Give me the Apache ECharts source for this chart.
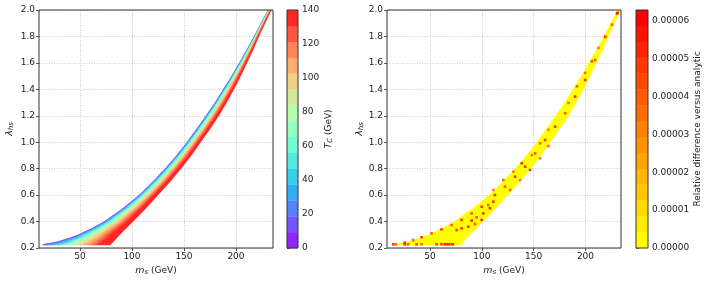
<!DOCTYPE html>
<html><head><meta charset="utf-8">
<script src="https://cdn.jsdelivr.net/npm/echarts@6/dist/echarts.min.js"></script>
<style>html,body{margin:0;padding:0;background:#fff}#c{width:710px;height:283px}</style>
</head><body><div id="c"></div>
<script>
// ---------------- data ----------------
// Band of points in (m_s, lambda_hs): for each lambda row, the m_s of the low-T edge and of the high-T edge
const lambdaRows   = [0.222, 0.23, 0.24, 0.25, 0.275, 0.3, 0.35, 0.4, 0.5, 0.6, 0.7, 0.8, 0.9, 1.0, 1.1, 1.2, 1.3, 1.4, 1.5, 1.6, 1.7, 1.8, 1.9, 2.0];
const upperEdgeMs  = [14, 16, 24, 29.5, 40, 48.5, 62, 73.5, 91.5, 107, 120, 132, 143, 153, 162.3, 171.3, 180, 188, 196, 203.4, 210.6, 217.6, 224.4, 231];
const lowerEdgeMs  = [79, 80, 81.2, 82.4, 85.3, 88.2, 94.5, 101, 113.5, 125, 136.5, 147, 157, 166, 175, 183.5, 191, 198, 204.5, 210.5, 216.5, 222, 228, 234];
// position of each T_C colour-level boundary across the band (0 = low-T edge, 1 = high-T edge), read on three kinds of rows
const tcFracBottom = [0, 0.03, 0.07, 0.12, 0.18, 0.24, 0.29, 0.335, 0.38, 0.45, 0.53, 0.60, 0.67, 0.74, 0.80, 1];
const tcFracLow    = [0, 0.022, 0.055, 0.095, 0.145, 0.195, 0.245, 0.29, 0.345, 0.41, 0.485, 0.555, 0.625, 0.70, 0.775, 1];
const tcFracMain   = [0, 0.015, 0.04, 0.07, 0.11, 0.15, 0.2, 0.25, 0.31, 0.37, 0.44, 0.51, 0.58, 0.66, 0.75, 1];
const rowFracKind  = [0, 0, 0, 1, 1, 2, 2, 2, 2, 2, 2, 2, 2, 2, 2, 2, 2, 2, 2, 2, 2, 2, 2, 2];
// colour bar levels
const tcBandEdges  = [0, 9.33, 18.67, 28, 37.33, 46.67, 56, 65.33, 74.67, 84, 93.33, 102.67, 112, 121.33, 130.67, 140];
const tcTicks      = [0, 20, 40, 60, 80, 100, 120, 140];
const relBandEdges = [0, 0.00000419, 0.00000837, 0.00001256, 0.00001675, 0.00002093, 0.00002512, 0.00002931, 0.00003349, 0.00003768, 0.00004187, 0.00004605, 0.00005024, 0.00005443, 0.00005861, 0.0000628];
const relTicks     = [0, 0.00001, 0.00002, 0.00003, 0.00004, 0.00005, 0.00006];
const xTicks       = [50, 100, 150, 200];
// points with a large relative difference (right panel)
const dotMs      = [14.4, 17, 25.5, 28.7, 36.9, 41.7, 56.2, 61, 64, 66, 68, 70, 72,
                    25.5, 33.6, 41.7, 51.4, 61, 70.7, 80.4, 90.1, 99.8,
                    75.6, 80.4, 86.8, 93.3, 99.8, 90.1, 94.9, 101.3, 107.8, 106.2, 111,
                    112.6, 122.3, 132, 141.7, 151.4, 161, 170.7, 180.4, 190, 199.7, 209.4, 219.1, 230.4,
                    111, 120.7, 130.4, 138.5, 148.2, 156.2, 164.2,
                    127.2, 136.8, 146.5, 156.2, 164.2,
                    183.6, 191.7, 199.7, 206.2, 212.6, 225.6, 231];
const dotLambdas = [0.228, 0.228, 0.228, 0.228, 0.228, 0.228, 0.228, 0.228, 0.228, 0.228, 0.228, 0.228, 0.228,
                    0.24, 0.26, 0.281, 0.311, 0.341, 0.374, 0.412, 0.462, 0.512,
                    0.336, 0.349, 0.361, 0.382, 0.412, 0.407, 0.432, 0.462, 0.50, 0.525, 0.55,
                    0.60, 0.664, 0.739, 0.815, 0.916, 1.017, 1.118, 1.219, 1.345, 1.471, 1.622, 1.798, 1.975,
                    0.639, 0.714, 0.777, 0.841, 0.903, 0.992, 1.093,
                    0.639, 0.714, 0.79, 0.878, 0.971,
                    1.297, 1.423, 1.524, 1.612, 1.713, 1.889, 1.978];
const dotValues  = [0.00006, 0.00005, 0.00006, 0.00005, 0.00006, 0.00005, 0.00006, 0.00006, 0.00006, 0.00006, 0.00006, 0.00005, 0.00006,
                    0.00006, 0.00005, 0.00006, 0.00005, 0.00006, 0.00005, 0.00006, 0.00005, 0.00006,
                    0.00006, 0.00006, 0.00006, 0.00005, 0.00006, 0.00006, 0.00005, 0.00006, 0.00006, 0.00005, 0.00006,
                    0.00006, 0.00005, 0.00006, 0.00006, 0.00005, 0.00006, 0.00006, 0.00005, 0.00006, 0.00006, 0.00005, 0.00006, 0.00006,
                    0.00004, 0.00005, 0.00004, 0.00006, 0.00004, 0.00005, 0.00004,
                    0.00005, 0.00004, 0.00006, 0.00004, 0.00005,
                    0.00004, 0.00005, 0.00004, 0.00005, 0.00004, 0.00005, 0.00006];

// ---------------- styling helpers ----------------
const FONT = 'DejaVu Sans';
const TXT = '#222';
function clip01(v){ return Math.max(0, Math.min(1, v)); }
function blend(c, a){ return Math.round(255 * (a * c + (1 - a))); }
function rainbow(x){ // matplotlib 'rainbow'
  const r = clip01(Math.abs(2 * x - 0.5)), g = clip01(Math.sin(Math.PI * x)), b = clip01(Math.cos(Math.PI * x / 2));
  const a = 0.85;
  return 'rgb(' + blend(r, a) + ',' + blend(g, a) + ',' + blend(b, a) + ')';
}
function autumnR(x){ return 'rgb(255,' + Math.round(255 * (1 - x)) + ',0)'; }
const nBands = tcBandEdges.length - 1;
const tcColors  = tcBandEdges.slice(0, -1).map((_, i) => rainbow(i / (nBands - 1)));
const relColors = relBandEdges.slice(0, -1).map((_, i) => autumnR(i / (relBandEdges.length - 2)));
function relColor(v){
  for (let i = 0; i < relColors.length; i++) if (v <= relBandEdges[i + 1]) return relColors[i];
  return relColors[relColors.length - 1];
}
const fracKinds = [tcFracBottom, tcFracLow, tcFracMain];

function edgeM(r, k, useLevels){
  const f = useLevels ? fracKinds[rowFracKind[r]][k] : k;
  return upperEdgeMs[r] + f * (lowerEdgeMs[r] - upperEdgeMs[r]);
}
function bandPolygon(api, k0, k1, useLevels){
  const pts = [];
  for (let r = 0; r < lambdaRows.length; r++) pts.push(api.coord([edgeM(r, k0, useLevels), lambdaRows[r]]));
  for (let r = lambdaRows.length - 1; r >= 0; r--) pts.push(api.coord([edgeM(r, k1, useLevels), lambdaRows[r]]));
  return pts;
}

const tickLabel = {fontFamily: FONT, fontSize: 9, color: TXT};
const gridLine = {show: true, lineStyle: {color: '#bdbdbd', type: [1, 1.5], width: 0.8}};
const tickStyle = {show: true, length: 3, inside: false, lineStyle: {color: '#333', width: 0.8}};

function mainX(gi, min, max){
  return {type: 'value', gridIndex: gi, min: min, max: max,
    axisLine: {show: false}, axisTick: Object.assign({customValues: xTicks}, tickStyle),
    axisLabel: Object.assign({customValues: xTicks, margin: 4}, tickLabel),
    splitLine: gridLine,
    name: '{m|m}{s|s}{n| (GeV)}', nameLocation: 'middle', nameGap: 16,
    nameTextStyle: {fontFamily: FONT, fontSize: 9, color: TXT, rich: {
      m: {fontFamily: FONT, fontSize: 9.5, fontStyle: 'italic', color: TXT},
      s: {fontFamily: FONT, fontSize: 7, fontStyle: 'italic', color: TXT, verticalAlign: 'bottom'},
      n: {fontFamily: FONT, fontSize: 9, color: TXT}}}};
}
function mainY(gi, gap){
  return {type: 'value', gridIndex: gi, min: 0.2, max: 2.0, interval: 0.2,
    axisLine: {show: false}, axisTick: tickStyle,
    axisLabel: Object.assign({margin: 4, formatter: v => v.toFixed(1)}, tickLabel),
    splitLine: gridLine,
    name: '{l|λ}{s|hs}', nameLocation: 'middle', nameGap: gap, nameRotate: 90,
    nameTextStyle: {fontFamily: FONT, fontSize: 9, color: TXT, rich: {
      l: {fontFamily: FONT, fontSize: 9.5, fontStyle: 'italic', color: TXT},
      s: {fontFamily: FONT, fontSize: 7, fontStyle: 'italic', color: TXT, verticalAlign: 'bottom'}}}};
}
function frameSeries(xi, yi){
  return {type: 'custom', xAxisIndex: xi, yAxisIndex: yi, data: [[0, 0]], z: 10, silent: true,
    renderItem: (params) => {
      const c = params.coordSys;
      return {type: 'rect', shape: {x: c.x, y: c.y, width: c.width, height: c.height},
        style: {fill: 'none', stroke: '#333', lineWidth: 1}};
    }};
}
function cbarSeries(xi, yi, edges, colors){
  return {type: 'custom', xAxisIndex: xi, yAxisIndex: yi, silent: true,
    data: colors.map((c, i) => [i]),
    renderItem: (params, api) => {
      const i = api.value(0);
      const p0 = api.coord([0, edges[i]]), p1 = api.coord([1, edges[i + 1]]);
      return {type: 'rect', shape: {x: p0[0], y: p1[1], width: p1[0] - p0[0], height: p0[1] - p1[1] + 0.3},
        style: {fill: colors[i]}};
    }};
}

const option = {
  animation: false,
  backgroundColor: '#fff',
  grid: [
    {left: 39, top: 10, width: 234, height: 238},
    {left: 287, top: 10, width: 11, height: 238},
    {left: 387, top: 10, width: 234, height: 238},
    {left: 636, top: 10, width: 12, height: 238}
  ],
  xAxis: [
    mainX(0, 10.6, 235.6),
    {type: 'value', gridIndex: 1, min: 0, max: 1, show: false},
    mainX(2, 8.4, 234.3),
    {type: 'value', gridIndex: 3, min: 0, max: 1, show: false}
  ],
  yAxis: [
    mainY(0, 24),
    {type: 'value', gridIndex: 1, position: 'right', min: 0, max: 140,
      axisLine: {show: false}, axisTick: Object.assign({customValues: tcTicks}, tickStyle), splitLine: {show: false},
      axisLabel: Object.assign({margin: 4, customValues: tcTicks}, tickLabel),
      name: '{t|T}{s|C}{n| (GeV)}', nameLocation: 'middle', nameGap: 26, nameRotate: 90,
      nameTextStyle: {fontFamily: FONT, fontSize: 9, color: TXT, rich: {
        t: {fontFamily: FONT, fontSize: 9.5, fontStyle: 'italic', color: TXT},
        s: {fontFamily: FONT, fontSize: 7, fontStyle: 'italic', color: TXT, verticalAlign: 'bottom'},
        n: {fontFamily: FONT, fontSize: 9, color: TXT}}}},
    mainY(2, 18),
    {type: 'value', gridIndex: 3, position: 'right', min: 0, max: relBandEdges[relBandEdges.length - 1],
      axisLine: {show: false}, axisTick: Object.assign({customValues: relTicks}, tickStyle), splitLine: {show: false},
      axisLabel: Object.assign({margin: 4, customValues: relTicks, formatter: v => v.toFixed(5)}, tickLabel),
      name: 'Relative difference versus analytic', nameLocation: 'middle', nameGap: 45, nameRotate: 90,
      nameTextStyle: {fontFamily: FONT, fontSize: 9, color: TXT}}
  ],
  series: [
    {type: 'custom', xAxisIndex: 0, yAxisIndex: 0, silent: true, clip: true,
      data: tcColors.map((c, i) => [i]),
      renderItem: (params, api) => {
        const k = api.value(0);
        return {type: 'polygon', shape: {points: bandPolygon(api, k, k + 1, true)},
          style: {fill: tcColors[k], stroke: tcColors[k], lineWidth: 0.4}};
      }},
    cbarSeries(1, 1, tcBandEdges, tcColors),
    {type: 'custom', xAxisIndex: 2, yAxisIndex: 2, silent: true, clip: true,
      data: [[0]],
      renderItem: (params, api) => ({type: 'polygon', shape: {points: bandPolygon(api, 0, 1, false)},
        style: {fill: relColors[0], stroke: relColors[0], lineWidth: 0.4}})},
    {type: 'scatter', xAxisIndex: 2, yAxisIndex: 2, silent: true, symbol: 'rect', symbolSize: 2.6,
      data: dotMs.map((m, i) => [m, dotLambdas[i], dotValues[i]]),
      itemStyle: {color: p => relColor(p.value[2])}},
    cbarSeries(3, 3, relBandEdges, relColors),
    frameSeries(0, 0), frameSeries(1, 1), frameSeries(2, 2), frameSeries(3, 3)
  ]
};
const chart = echarts.init(document.getElementById('c'), null, {renderer: 'canvas'});
chart.setOption(option);
</script></body></html>
